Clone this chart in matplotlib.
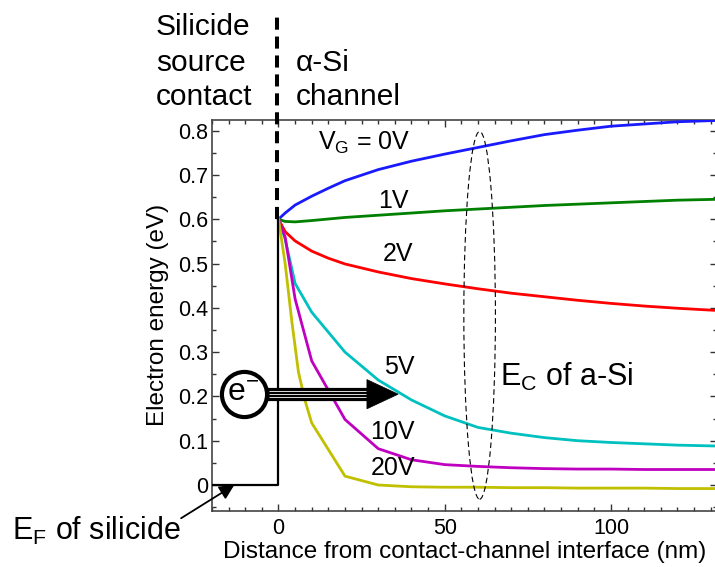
import matplotlib
matplotlib.use("Agg")
import matplotlib.pyplot as plt
from matplotlib.patches import Ellipse, Polygon
from matplotlib.ticker import MultipleLocator

plt.rcParams["font.family"] = ["Liberation Sans", "DejaVu Sans"]
plt.rcParams["mathtext.fontset"] = "custom"
plt.rcParams["mathtext.rm"] = "Liberation Sans"
plt.rcParams["mathtext.it"] = "Liberation Sans:italic"
plt.rcParams["mathtext.bf"] = "Liberation Sans:bold"

# === DATA: conduction band edge vs distance, one curve per gate voltage ===
x_0v = [0, 2, 5, 10, 15, 20, 30, 40, 50, 60, 70, 80, 90, 100, 110, 120, 132]
e_0v = [0.600, 0.614, 0.632, 0.652, 0.670, 0.687, 0.712, 0.731, 0.747, 0.762,
        0.777, 0.791, 0.801, 0.810, 0.815, 0.820, 0.823]

x_1v = [0, 2, 5, 10, 20, 30, 40, 50, 60, 70, 80, 90, 100, 110, 120, 132]
e_1v = [0.600, 0.595, 0.594, 0.597, 0.604, 0.609, 0.614, 0.619, 0.623, 0.627,
        0.631, 0.634, 0.637, 0.640, 0.643, 0.645]

x_2v = [0, 2, 5, 10, 15, 20, 30, 40, 50, 60, 70, 80, 90, 100, 110, 120, 132]
e_2v = [0.600, 0.572, 0.551, 0.528, 0.512, 0.499, 0.481, 0.466, 0.454, 0.443,
        0.433, 0.425, 0.417, 0.410, 0.404, 0.399, 0.394]

x_5v = [0, 2, 5, 10, 20, 30, 40, 50, 60, 70, 80, 90, 100, 110, 120, 132]
e_5v = [0.600, 0.555, 0.455, 0.390, 0.300, 0.237, 0.192, 0.156, 0.130, 0.117,
        0.107, 0.100, 0.096, 0.093, 0.090, 0.088]

x_10v = [0, 2, 5, 10, 20, 30, 40, 50, 60, 70, 80, 90, 100, 110, 120, 132]
e_10v = [0.600, 0.560, 0.420, 0.280, 0.148, 0.082, 0.057, 0.046, 0.042, 0.039,
         0.037, 0.036, 0.036, 0.035, 0.035, 0.035]

x_20v = [0, 2, 4, 6, 8, 10, 20, 30, 40, 50, 60, 70, 80, 90, 100, 110, 120, 132]
e_20v = [0.600, 0.500, 0.370, 0.255, 0.190, 0.140, 0.020, 0.000, -0.004, -0.005,
         -0.005, -0.006, -0.006, -0.007, -0.007, -0.007, -0.008, -0.008]

curves = [
    (x_0v, e_0v, "#1a1aff"),
    (x_1v, e_1v, "#008000"),
    (x_2v, e_2v, "#ff0000"),
    (x_5v, e_5v, "#00c0c0"),
    (x_10v, e_10v, "#c000c0"),
    (x_20v, e_20v, "#c0c000"),
]

# curve labels: (text, x of right edge, y centre)
curve_labels = [
    (r"V$_\mathrm{G}$ = 0V", 39.5, 0.772),
    ("1V", 39.0, 0.641),
    ("2V", 40.5, 0.522),
    ("5V", 41.0, 0.267),
    ("10V", 41.0, 0.120),
    ("20V", 41.0, 0.038),
]

x_ticks = [0, 50, 100]
x_tick_labels = ["0", "50", "100"]
y_ticks = [0, 0.1, 0.2, 0.3, 0.4, 0.5, 0.6, 0.7, 0.8]
y_tick_labels = ["0", "0.1", "0.2", "0.3", "0.4", "0.5", "0.6", "0.7", "0.8"]

barrier_height = 0.6
fermi_level = 0.0
electron_energy = 0.205

W, H = 715, 567
fig = plt.figure(figsize=(W / 100, H / 100), dpi=100)
ax = fig.add_axes([212 / W, 56.3 / H, (717 - 212) / W, (510.7 - 120) / H])
ax.set_xlim(-20, 131.9)
ax.set_ylim(-0.058, 0.824)

for xs, es, col in curves:
    ax.plot(xs, es, color=col, lw=2.0, zorder=3)

for txt, xr, yc in curve_labels:
    ax.text(xr, yc, txt, ha="right", va="center", fontsize=18, zorder=5)

# metal side: Fermi level and the step up to the barrier
ax.plot([-20, 0, 0], [fermi_level, fermi_level, barrier_height],
        color="black", lw=1.6, zorder=4)

# interface marker, dashed, running up out of the axes
ax.plot([-0.4, -0.4], [barrier_height, 1.07], color="black", lw=2.9,
        dashes=(3, 1.7), clip_on=False, zorder=4)

# dashed ellipse around the band edges
ax.add_patch(Ellipse((60.5, 0.383), width=9.5, height=0.83, fill=False,
                     ec="black", lw=0.8, ls=(0, (5, 3)), zorder=4))
ax.text(66.5, 0.244, r"E$_\mathrm{C}$ of a-Si", ha="left", va="center",
        fontsize=22, zorder=5)

# injected electron and its arrow
ax.plot([-10.3, 27.0], [electron_energy, electron_energy], color="black",
        lw=9.5, solid_capstyle="butt", zorder=6)
for dy in (-0.0072, 0.0, 0.0072):
    ax.plot([-3.0, 27.0], [electron_energy + dy] * 2, color="white", lw=0.6,
            solid_capstyle="butt", zorder=7)
ax.add_patch(Polygon([[26.6, electron_energy + 0.033],
                      [26.6, electron_energy - 0.033],
                      [36.0, electron_energy]],
                     closed=True, fc="black", ec="black", lw=0.5, zorder=7))
ax.plot([-10.3], [electron_energy], marker="o", ms=32.5, mfc="white",
        mec="black", mew=3.0, zorder=8)
ax.text(-10.6, electron_energy + 0.002, r"e$^\mathrm{-}$", ha="center",
        va="center", fontsize=23, zorder=9)

# Fermi level callout
ax.annotate("", xy=(-13.3, 0.0), xytext=(-29.3, -0.075),
            arrowprops=dict(arrowstyle="-|>", color="black", lw=1.3,
                            mutation_scale=22, shrinkA=0, shrinkB=0),
            annotation_clip=False, zorder=6)
fig.text(12 / W, 1 - 531 / H, r"E$_\mathrm{F}$ of silicide", ha="left",
         va="center", fontsize=22)

# region labels above the plot
for txt, yb in (("Silicide", 35), ("source", 71), ("contact", 105)):
    fig.text(156 / W, 1 - yb / H, txt, ha="left", va="baseline", fontsize=21.5)
for txt, yb in (("\u03b1-Si", 71), ("channel", 105)):
    fig.text(296 / W, 1 - yb / H, txt, ha="left", va="baseline", fontsize=21.5)

ax.set_xticks(x_ticks)
ax.set_xticklabels(x_tick_labels)
ax.set_yticks(y_ticks)
ax.set_yticklabels(y_tick_labels)
ax.xaxis.set_minor_locator(MultipleLocator(5))
ax.yaxis.set_minor_locator(MultipleLocator(0.05))
ax.tick_params(which="both", direction="in", top=True, right=True,
               color="#333333", width=1.0, labelsize=15.5)
ax.tick_params(which="major", length=5)
ax.tick_params(which="minor", length=3)
ax.tick_params(axis="x", pad=5)
ax.tick_params(axis="y", pad=3)
for sp in ax.spines.values():
    sp.set_color("#444444")
    sp.set_linewidth(1.2)

ax.set_xlabel("Distance from contact-channel interface (nm)", fontsize=17.5,
              labelpad=2)
ax.set_ylabel("Electron energy (eV)", fontsize=17.5, labelpad=6)

fig.savefig("out.png", dpi=100)
